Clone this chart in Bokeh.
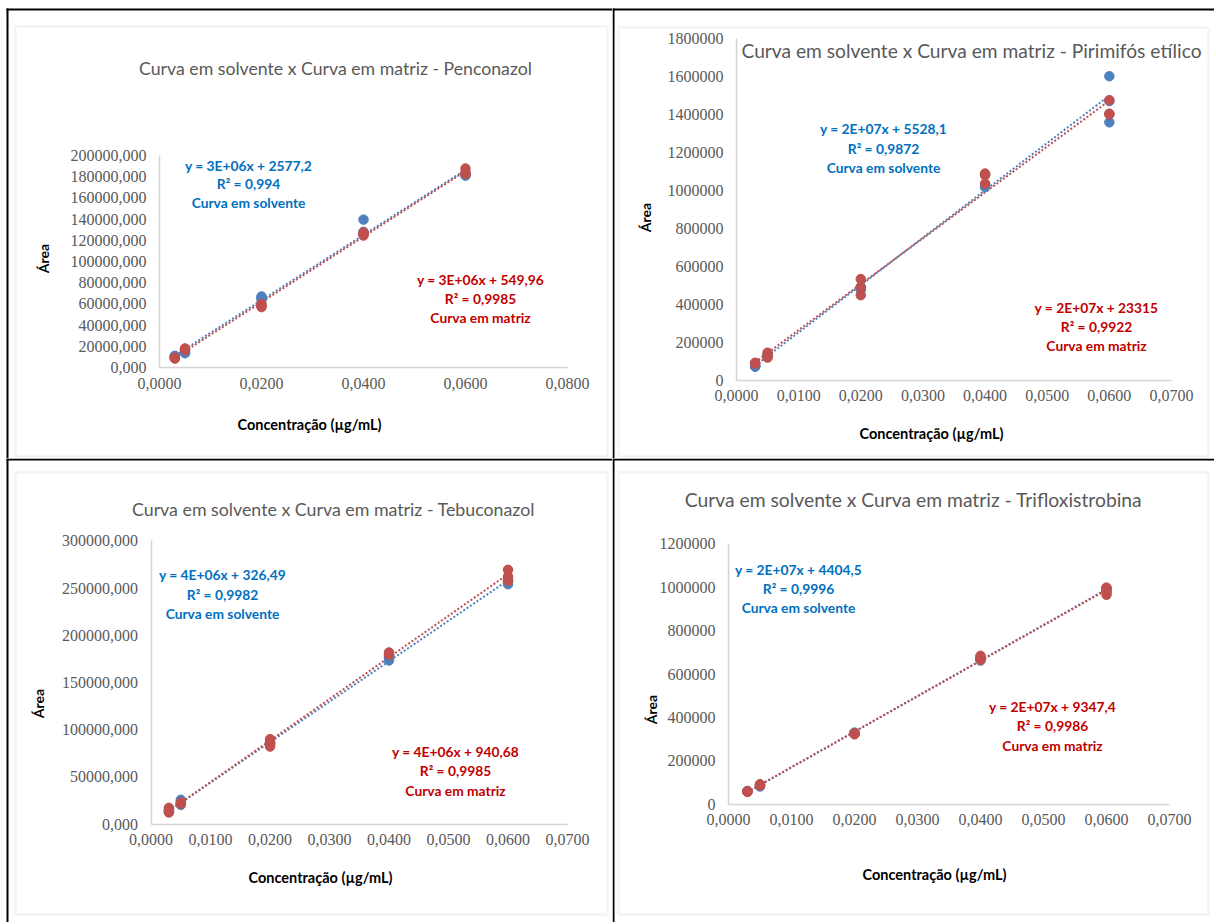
import numpy as np
from bokeh.plotting import figure
from bokeh.models import Range1d, FixedTicker, CustomJSTickFormatter, Label, BoxAnnotation
from bokeh.layouts import column, row
from bokeh.embed import file_html
from bokeh.resources import INLINE

# ---------------- data ----------------
titles = [
    "Curva em solvente x Curva em matriz - Penconazol",
    "Curva em solvente x Curva em matriz - Pirimifós etílico",
    "Curva em solvente x Curva em matriz - Tebuconazol",
    "Curva em solvente x Curva em matriz - Trifloxistrobina",
]
x_title = "Concentração (µg/mL)"
y_title = "Área"

conc = [0.003, 0.003, 0.003, 0.005, 0.005, 0.005, 0.02, 0.02, 0.02,
        0.04, 0.04, 0.04, 0.06, 0.06, 0.06]

pen_solvente = [10700, 9800, 11000, 14000, 15500, 13500, 67000, 64000, 65500,
                139500, 126000, 128000, 181000, 183000, 182000]
pen_matriz = [8500, 9200, 8800, 18000, 17000, 16500, 57000, 60000, 58000,
              127400, 124500, 126000, 187700, 182500, 183500]

pir_solvente = [74000, 70000, 72000, 132000, 125000, 128000, 489000, 475000, 482000,
                1082000, 1017000, 1030000, 1601000, 1358000, 1470000]
pir_matriz = [91000, 86000, 88000, 144000, 118000, 130000, 532000, 447000, 490000,
              1088000, 1035000, 1080000, 1475000, 1404000, 1400000]

teb_solvente = [14000, 13000, 15000, 25800, 20500, 23000, 85000, 84000, 86000,
                173300, 176000, 178000, 254000, 257000, 259000]
teb_matriz = [17300, 12400, 14500, 22200, 21500, 23000, 90000, 82200, 86000,
              181800, 179300, 180000, 269300, 257600, 262000]

tri_solvente = [60000, 58000, 61000, 81600, 85000, 88000, 325000, 327000, 330000,
                662000, 670000, 675000, 990000, 980000, 995000]
tri_matriz = [58500, 57000, 59500, 92000, 86000, 90000, 327000, 322000, 325000,
              684000, 665000, 675000, 998000, 965000, 980000]

pen_xticks = [0.0, 0.02, 0.04, 0.06, 0.08]
pen_yticks = [0, 20000, 40000, 60000, 80000, 100000, 120000, 140000, 160000, 180000, 200000]
pir_xticks = [0.0, 0.01, 0.02, 0.03, 0.04, 0.05, 0.06, 0.07]
pir_yticks = [0, 200000, 400000, 600000, 800000, 1000000, 1200000, 1400000, 1600000, 1800000]
teb_xticks = [0.0, 0.01, 0.02, 0.03, 0.04, 0.05, 0.06, 0.07]
teb_yticks = [0, 50000, 100000, 150000, 200000, 250000, 300000]
tri_xticks = [0.0, 0.01, 0.02, 0.03, 0.04, 0.05, 0.06, 0.07]
tri_yticks = [0, 200000, 400000, 600000, 800000, 1000000, 1200000]

eq_solvente = [
    ["y = 3E+06x + 2577,2", "R² = 0,994", "Curva em solvente"],
    ["y = 2E+07x + 5528,1", "R² = 0,9872", "Curva em solvente"],
    ["y = 4E+06x + 326,49", "R² = 0,9982", "Curva em solvente"],
    ["y = 2E+07x + 4404,5", "R² = 0,9996", "Curva em solvente"],
]
eq_matriz = [
    ["y = 3E+06x + 549,96", "R² = 0,9985", "Curva em matriz"],
    ["y = 2E+07x + 23315", "R² = 0,9922", "Curva em matriz"],
    ["y = 4E+06x + 940,68", "R² = 0,9985", "Curva em matriz"],
    ["y = 2E+07x + 9347,4", "R² = 0,9986", "Curva em matriz"],
]

# ---------------- styling / layout ----------------
BLUE = "#4F81BD"
RED = "#C0504D"
TXT_BLUE = "#0070C0"
TXT_RED = "#C00000"
GREY_TXT = "#595959"
SANS = "Lato"
SERIF = "Liberation Serif"

# canvas-pixel layout of each panel (the plot frame covers the whole canvas;
# "axes" gives the pixel positions of the data origin / axis maxima)
layouts = [
    dict(W=612, H=458, axes=(159, 567, 155, 367), gframe=(15, 26, 607, 456),
         vline=(6, 8, 8), hline=(8, 10, 6), tsize="17.7px",
         title=(335, 68), blue=(248, [165, 183, 202]), red=(480, [279, 298, 317]),
         xt=(309, 424), yt=(43, 258), ydec=3),
    dict(W=602, H=458, axes=(124, 559, 38, 379.5), gframe=(6, 27, 596, 456),
         vline=(0, 2, 8), hline=(8, 10, 0), tsize="19.2px",
         title=(359, 50), blue=(271, [128, 148, 167]), red=(484, [307, 326, 345]),
         xt=(319, 433), yt=(33, 217), ydec=0),
    dict(W=612, H=464, axes=(150.6, 567, 82.3, 365.7), gframe=(15, 14, 607, 456),
         vline=(6, 8, 0), hline=(0, 2, 6), tsize="17.8px",
         title=(333, 50), blue=(222, [116, 136, 155]), red=(455, [293, 312, 332]),
         xt=(320, 419), yt=(38, 245), ydec=3),
    dict(W=602, H=464, axes=(116, 557, 85.3, 345.7), gframe=(6, 14, 596, 456),
         vline=(0, 2, 0), hline=(0, 2, 0), tsize="19.3px",
         title=(301, 41), blue=(186, [111, 130, 149]), red=(440, [248, 267, 287]),
         xt=(322, 416), yt=(39, 251), ydec=0),
]

series = [
    (pen_solvente, pen_matriz, pen_xticks, pen_yticks),
    (pir_solvente, pir_matriz, pir_xticks, pir_yticks),
    (teb_solvente, teb_matriz, teb_xticks, teb_yticks),
    (tri_solvente, tri_matriz, tri_xticks, tri_yticks),
]


def make_panel(i):
    L = layouts[i]
    ys, ym, xticks, yticks = series[i]
    W, H = L["W"], L["H"]
    al, ar, at, ab = L["axes"]
    xmax, ymax = xticks[-1], yticks[-1]

    def dx(cx):
        return (cx - al) / (ar - al) * xmax

    def dy(cy):
        return (ab - cy) / (ab - at) * ymax

    p = figure(width=W, height=H, output_backend="svg", toolbar_location=None,
               x_range=Range1d(dx(0), dx(W)), y_range=Range1d(dy(H), dy(0)),
               min_border=0, min_border_left=0, min_border_right=0,
               min_border_top=0, min_border_bottom=0,
               outline_line_color=None, background_fill_color="white",
               border_fill_color="white")
    p.grid.visible = False

    for ax in (p.xaxis[0], p.yaxis[0]):
        ax.fixed_location = 0
        ax.axis_line_color = "#d4d4d4"
        ax.axis_line_width = 1.5
        ax.major_tick_out = 0
        ax.major_tick_in = 0
        ax.minor_tick_out = 0
        ax.minor_tick_in = 0
        ax.major_label_text_font = SERIF
        ax.major_label_text_font_size = "16px"
        ax.major_label_text_color = GREY_TXT
    p.xaxis[0].bounds = (0, xmax)
    p.yaxis[0].bounds = (0, ymax)
    p.xaxis[0].ticker = FixedTicker(ticks=xticks)
    p.yaxis[0].ticker = FixedTicker(ticks=yticks)
    p.xaxis[0].major_label_standoff = 10
    p.yaxis[0].major_label_standoff = 13
    p.xaxis[0].formatter = CustomJSTickFormatter(
        code="return tick.toFixed(4).replace('.', ',');")
    p.yaxis[0].formatter = CustomJSTickFormatter(
        code="return tick.toFixed(%d).replace('.', ',');" % L["ydec"])

    # decorations: black table lines, grey chart frame
    v0, v1, vtop = L["vline"]
    h0, h1, hleft = L["hline"]
    p.add_layout(BoxAnnotation(left=dx(v0), right=dx(v1), top=dy(vtop), bottom=dy(H),
                               fill_color="black", fill_alpha=1, line_alpha=0,
                               level="underlay"))
    p.add_layout(BoxAnnotation(left=dx(hleft), right=dx(W), top=dy(h0), bottom=dy(h1),
                               fill_color="black", fill_alpha=1, line_alpha=0,
                               level="underlay"))
    gl, gt, gr, gb = L["gframe"]
    p.add_layout(BoxAnnotation(left=dx(gl), right=dx(gr), top=dy(gt), bottom=dy(gb),
                               fill_alpha=0, line_color="#d9d9d9", line_width=2.5,
                               level="underlay"))

    # trendlines (least squares from the data)
    xs = [min(conc), max(conc)]
    for yy, col in ((ys, BLUE), (ym, RED)):
        k, b = np.polyfit(conc, yy, 1)
        p.line(xs, [k * v + b for v in xs], line_color=col, line_width=2,
               line_dash="2 2")
    p.scatter(conc, ys, size=9.5, fill_color=BLUE, line_color=BLUE)
    p.scatter(conc, ym, size=9.5, fill_color=RED, line_color=RED)

    # title
    tx, ty = L["title"]
    p.add_layout(Label(x=dx(tx), y=dy(ty), text=titles[i], text_align="center",
                       text_baseline="middle", text_font=SANS,
                       text_font_size=L["tsize"], text_color=GREY_TXT))
    # axis titles
    ax_, ay_ = L["xt"]
    p.add_layout(Label(x=dx(ax_), y=dy(ay_), text=x_title, text_align="center",
                       text_baseline="middle", text_font=SANS, text_font_style="bold",
                       text_font_size="14.5px", text_color="black"))
    bx_, by_ = L["yt"]
    p.add_layout(Label(x=dx(bx_), y=dy(by_), text=y_title, text_align="center",
                       text_baseline="middle", text_font=SANS, text_font_style="bold",
                       text_font_size="14px", text_color="black", angle=np.pi / 2))
    # equations
    for (cx, cys), lines, col in ((L["blue"], eq_solvente[i], TXT_BLUE),
                                  (L["red"], eq_matriz[i], TXT_RED)):
        for cy, t in zip(cys, lines):
            p.add_layout(Label(x=dx(cx), y=dy(cy), text=t, text_align="center",
                               text_baseline="middle", text_font=SANS,
                               text_font_style="bold", text_font_size="13.8px",
                               text_color=col))
    return p


panels = [make_panel(i) for i in range(4)]
layout = column(row(panels[0], panels[1]), row(panels[2], panels[3]))

open("out.html", "w").write(file_html(layout, INLINE, "Curvas"))
